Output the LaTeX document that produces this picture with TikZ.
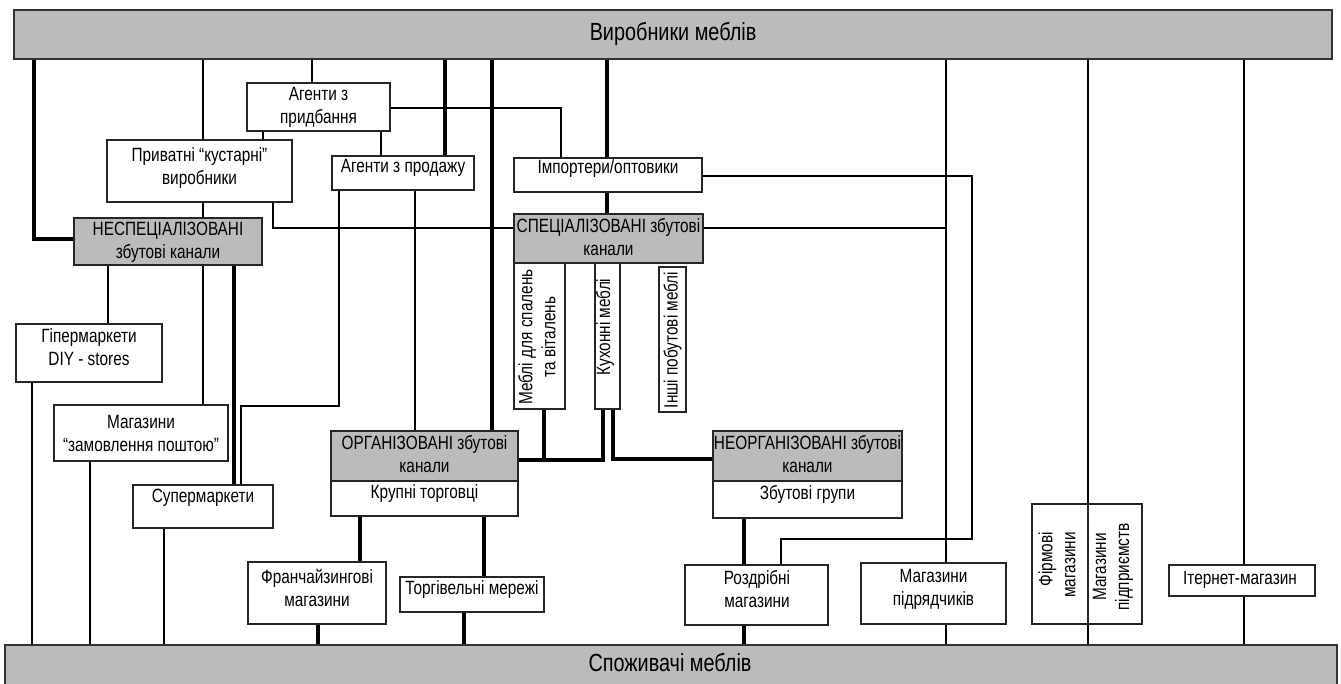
\documentclass[tikz,border=0pt]{standalone}
\usepackage{fontspec}
\setmainfont{Liberation Sans}[FakeStretch=0.8]
\usetikzlibrary{backgrounds}
\definecolor{bargrey}{HTML}{BBBBBB}
\begin{document}
\begin{tikzpicture}[x=1pt,y=-1pt,
  thinln/.style={line width=1.2pt},
  thickln/.style={line width=3.2pt},
  box/.style={draw=black!85, line width=1.2pt, fill=white, inner sep=0pt, outer sep=0pt, anchor=north west},
  gbox/.style={box, fill=bargrey},
  bar/.style={draw=black!80, line width=1.5pt, fill=bargrey, inner sep=0pt, outer sep=0pt, anchor=north west},
  txt/.style={font=\fontsize{19.2}{23}\selectfont, align=center, inner sep=0pt},
  bartxt/.style={font=\fontsize{24.8}{27}\selectfont, inner sep=0pt},
  rtxt/.style={txt, rotate=90}]
\useasboundingbox (0,0) rectangle (1341,684);

% bars
\node[bar, minimum width=1318pt, minimum height=49pt] (top) at (14,10) {};
\node[bar, minimum width=1332pt, minimum height=40pt] (bot) at (5,645) {};
\node[bartxt] (top-t) at (673,34) {Виробники меблів};
\node[bartxt] (bot-t) at (670,663) {Споживачі меблів};

% boxes
\node[box, minimum width=143pt, minimum height=48pt] (agp) at (247,83) {};
\node[box, minimum width=185pt, minimum height=62pt] (priv) at (107,140) {};
\node[box, minimum width=142pt, minimum height=34pt] (agprod) at (332,156) {};
\node[box, minimum width=188pt, minimum height=34pt] (imp) at (514,158) {};
\node[gbox, minimum width=188pt, minimum height=47pt] (nesp) at (74,218) {};
\node[gbox, minimum width=189pt, minimum height=49pt] (spec) at (514,214) {};
\node[box, minimum width=146pt, minimum height=58pt] (gip) at (16,324) {};
\node[box, minimum width=174pt, minimum height=56pt] (mag) at (54,405) {};
\node[box, minimum width=140pt, minimum height=43pt] (sup) at (133,485) {};
\node[gbox, minimum width=187pt, minimum height=50pt] (org) at (331,431) {};
\node[box, minimum width=187pt, minimum height=35pt] (krup) at (331,481) {};
\node[gbox, minimum width=189pt, minimum height=50pt] (neorg) at (713,431) {};
\node[box, minimum width=189pt, minimum height=37pt] (zbut) at (713,481) {};
\node[box, minimum width=51pt, minimum height=146pt] (mebli) at (514,263) {};
\node[box, minimum width=25pt, minimum height=146pt] (kuh) at (595,263) {};
\node[box, minimum width=27pt, minimum height=145pt] (inshi) at (659,267) {};
\node[box, minimum width=138pt, minimum height=62pt] (fr) at (248,562) {};
\node[box, minimum width=144pt, minimum height=35pt] (torg) at (400,577) {};
\node[box, minimum width=143pt, minimum height=60pt] (rozd) at (685,565) {};
\node[box, minimum width=145pt, minimum height=61pt] (pidr) at (861,563) {};
\node[box, minimum width=56pt, minimum height=120pt] (firm) at (1032,504) {};
\node[box, minimum width=54pt, minimum height=120pt] (pidpr) at (1088,504) {};
\node[box, minimum width=146pt, minimum height=31pt] (inet) at (1169,565) {};

% connectors
\begin{scope}[on background layer]
\draw[thinln] (203,0 |- top.south) -- (203,0 |- mag.north);
\draw[thinln] (312,0 |- top.south) -- (312,0 |- agp.north);
\draw[thinln] (263,0 |- agp.south) -- (263,0 |- priv.north);
\draw[thinln] (381,0 |- agp.south) -- (381,0 |- agprod.north);
\draw[thinln] (agp.east |- 0,108) -- (561,108) -- (561,0 |- imp.north);
\draw[thinln] (273,0 |- priv.south) -- (273,228) -- (spec.west |- 0,228);
\draw[thinln] (339,0 |- agprod.south) -- (339,406) -- (241,406) -- (241,0 |- sup.north);
\draw[thinln] (415,0 |- agprod.south) -- (415,0 |- org.north);
\draw[thinln] (imp.east |- 0,176) -- (972,176) -- (972,539) -- (781,539) -- (781,0 |- rozd.north);
\draw[thinln] (spec.east |- 0,228) -- (946,228);
\draw[thinln] (946,0 |- top.south) -- (946,0 |- bot.north);
\draw[thinln] (1088,0 |- top.south) -- (1088,0 |- bot.north);
\draw[thinln] (1244,0 |- top.south) -- (1244,0 |- bot.north);
\draw[thinln] (108,0 |- nesp.south) -- (108,0 |- gip.north);
\draw[thinln] (32,0 |- gip.south) -- (32,0 |- bot.north);
\draw[thinln] (90,0 |- mag.south) -- (90,0 |- bot.north);
\draw[thinln] (164,0 |- sup.south) -- (164,0 |- bot.north);
\draw[thickln] (34,0 |- top.south) -- (34,239) -- (nesp.west |- 0,239);
\draw[thickln] (445,0 |- top.south) -- (445,0 |- agprod.north);
\draw[thickln] (492,0 |- top.south) -- (492,0 |- org.north);
\draw[thickln] (607,0 |- top.south) -- (607,0 |- spec.north);
\draw[thickln] (234,0 |- nesp.south) -- (234,0 |- sup.north);
\draw[thickln] (544,0 |- mebli.south) -- (544,460);
\draw[thickln] (org.east |- 0,460) -- (603,460) -- (603,0 |- kuh.south);
\draw[thickln] (613,0 |- kuh.south) -- (613,459) -- (neorg.west |- 0,459);
\draw[thickln] (360,0 |- krup.south) -- (360,0 |- fr.north);
\draw[thickln] (484,0 |- krup.south) -- (484,0 |- torg.north);
\draw[thickln] (318,0 |- fr.south) -- (318,0 |- bot.north);
\draw[thickln] (464,0 |- torg.south) -- (464,0 |- bot.north);
\draw[thickln] (744,0 |- zbut.south) -- (744,0 |- bot.north);
\end{scope}

% texts
\node[txt] (agp-t) at (318.5,107) {Агенти з\\придбання};
\node[txt] (priv-t) at (199.5,168) {Приватні “кустарні”\\виробники};
\node[txt] (agprod-t) at (403,168) {Агенти з продажу};
\node[txt] (imp-t) at (608,169) {Імпортери/оптовики};
\node[txt] (nesp-t) at (168,242) {НЕСПЕЦІАЛІЗОВАНІ\\збутові канали};
\node[txt] (spec-t) at (608.5,237) {СПЕЦІАЛІЗОВАНІ збутові\\канали};
\node[txt] (gip-t) at (89,347) {Гіпермаркети\\DIY - stores};
\node[txt] (mag-t) at (141,433) {Магазини\\“замовлення поштою”};
\node[txt] (sup-t) at (203,498) {Супермаркети};
\node[txt] (org-t) at (424.5,454) {ОРГАНІЗОВАНІ збутові\\канали};
\node[txt] (krup-t) at (424.5,494) {Крупні торговці};
\node[txt] (neorg-t) at (807.5,454) {НЕОРГАНІЗОВАНІ збутові\\канали};
\node[txt] (zbut-t) at (807.5,494) {Збутові групи};
\node[rtxt] (mebli-t) at (537,337) {Меблі для спалень\\та віталень};
\node[rtxt] (kuh-t) at (605,327) {Кухонні меблі};
\node[rtxt] (inshi-t) at (672.5,340) {Інші побутові меблі};
\node[txt] (fr-t) at (317,588) {Франчайзингові\\магазини};
\node[txt] (torg-t) at (472,590) {Торгівельні мережі};
\node[txt] (rozd-t) at (757,589) {Роздрібні\\магазини};
\node[txt] (pidr-t) at (933.5,589) {Магазини\\підрядчиків};
\node[rtxt, align=right] (firm-t) at (1057,565) {Фірмові\\магазини};
\node[rtxt] (pidpr-t) at (1113,567) {Магазини\\підприємств};
\node[txt] (inet-t) at (1240,580) {Ітернет-магазин};
\end{tikzpicture}
\end{document}
